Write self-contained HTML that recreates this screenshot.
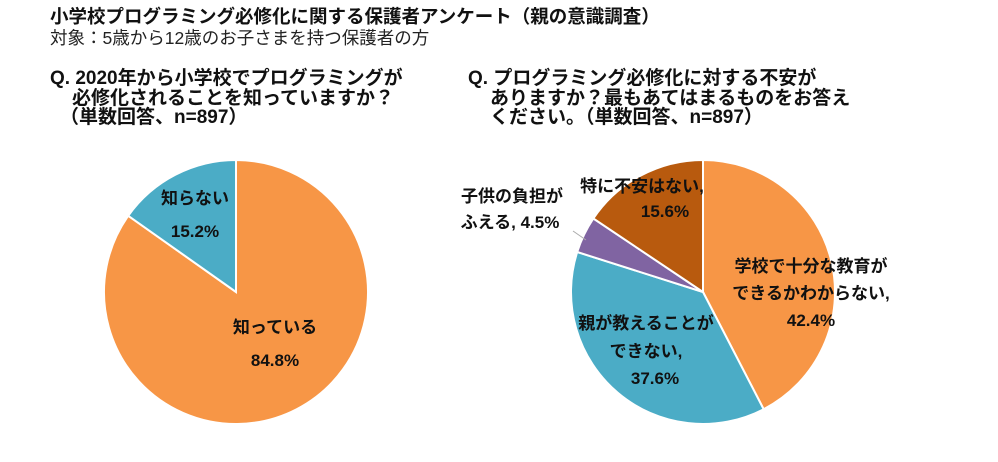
<!DOCTYPE html>
<html><head><meta charset="utf-8"><style>
body{margin:0;background:#fff;width:998px;height:457px;overflow:hidden;font-family:"Liberation Sans","Noto Sans CJK JP",sans-serif;}
svg text{font-family:"Liberation Sans","Noto Sans CJK JP",sans-serif;}
</style></head><body>
<svg id="s" width="998" height="457" xmlns="http://www.w3.org/2000/svg">
<text x="50" y="23" font-size="18.5" font-weight="bold" fill="#111">小学校プログラミング必修化に関する保護者アンケート（親の意識調査）</text>
<text x="50" y="44" font-size="17.5" fill="#222">対象：5歳から12歳のお子さまを持つ保護者の方</text>
<g font-size="19" font-weight="bold" fill="#111">
<text x="50" y="84">Q. 2020年から小学校でプログラミングが</text>
<text x="72" y="104">必修化されることを知っていますか？</text>
<text x="60" y="123">（単数回答、n=897）</text>
<text x="468" y="84">Q. プログラミング必修化に対する不安が</text>
<text x="490" y="104">ありますか？最もあてはまるものをお答え</text>
<text x="490" y="123">ください。（単数回答、n=897）</text>
</g>
<g id="p1"></g><g id="p2"></g>
<line x1="573" y1="231" x2="586" y2="240" stroke="#aaa" stroke-width="1"/>
<g font-size="17" font-weight="bold" fill="#111" text-anchor="middle">
<text x="195" y="204">知らない</text>
<text x="195" y="237">15.2%</text>
<text x="275" y="333">知っている</text>
<text x="275" y="366">84.8%</text>
<text x="512" y="202">子供の負担が</text>
<text x="510" y="228">ふえる, 4.5%</text>
<text x="642" y="192">特に不安はない,</text>
<text x="665" y="217">15.6%</text>
<text x="811" y="272">学校で十分な教育が</text>
<text x="811" y="299">できるかわからない,</text>
<text x="811" y="326">42.4%</text>
<text x="646" y="329">親が教えることが</text>
<text x="646" y="357">できない,</text>
<text x="655" y="384">37.6%</text>
</g>
</svg>
<script>
function pie(id,cx,cy,r,data){
 var g=document.getElementById(id),a=0,h='';
 data.forEach(function(d){
  var a2=a+d[0]/100*2*Math.PI;
  var x1=cx+r*Math.sin(a),y1=cy-r*Math.cos(a),x2=cx+r*Math.sin(a2),y2=cy-r*Math.cos(a2);
  var l=(a2-a)>Math.PI?1:0;
  h+='<path d="M'+cx+','+cy+'L'+x1+','+y1+'A'+r+','+r+' 0 '+l+' 1 '+x2+','+y2+'Z" fill="'+d[1]+'" stroke="#fff" stroke-width="2"/>';
  a=a2;});
 g.innerHTML=h;
}
pie('p1',236,292,132,[[84.8,'#F79646'],[15.2,'#4BACC6']]);
pie('p2',703,292,132,[[42.4,'#F79646'],[37.5,'#4BACC6'],[4.5,'#8064A2'],[15.6,'#B85A0E']]);
</script>
</body></html>
